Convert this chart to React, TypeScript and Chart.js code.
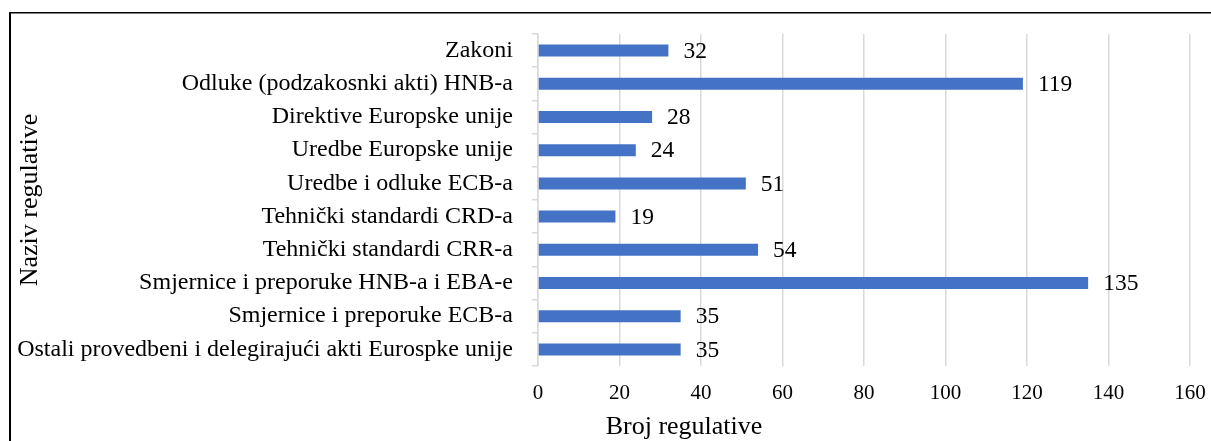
import React, { useEffect, useRef } from "react";
import { Chart, registerables } from "chart.js";

Chart.register(...registerables);

const categories: string[] = [
  "Zakoni",
  "Odluke (podzakosnki akti) HNB-a",
  "Direktive Europske unije",
  "Uredbe Europske unije",
  "Uredbe i odluke ECB-a",
  "Tehnički standardi CRD-a",
  "Tehnički standardi CRR-a",
  "Smjernice i preporuke HNB-a i EBA-e",
  "Smjernice i preporuke ECB-a",
  "Ostali provedbeni i delegirajući akti Eurospke unije",
];

const values: number[] = [32, 119, 28, 24, 51, 19, 54, 135, 35, 35];

const xTickMin = 0;
const xTickMax = 160;
const xTickStep = 20;

const xTitle = "Broj regulative";
const yTitle = "Naziv regulative";

const FONT = "'Liberation Serif', 'Times New Roman', serif";

const frame = {
  id: "frame",
  beforeDraw(chart: any) {
    const ctx = chart.ctx;
    ctx.save();
    ctx.fillStyle = "#000";
    ctx.fillRect(9, 12, chart.width, 1.5);
    ctx.fillRect(9, 12, 2, chart.height);
    ctx.restore();
  },
};

const xTitlePlugin = {
  id: "xTitlePlugin",
  afterDraw(chart: any) {
    const ctx = chart.ctx;
    ctx.save();
    ctx.font = `26px ${FONT}`;
    ctx.fillStyle = "#000";
    ctx.textAlign = "center";
    ctx.textBaseline = "middle";
    ctx.fillText(xTitle, 684, 427);
    ctx.restore();
  },
};

const valueLabels = {
  id: "valueLabels",
  afterDatasetsDraw(chart: any) {
    const ctx = chart.ctx;
    const meta = chart.getDatasetMeta(0);
    ctx.save();
    ctx.font = `23.5px ${FONT}`;
    ctx.fillStyle = "#000";
    ctx.textAlign = "left";
    ctx.textBaseline = "middle";
    meta.data.forEach((el: any, i: number) => {
      ctx.fillText(String(values[i]), el.x + 15, el.y + 1);
    });
    ctx.restore();
  },
};

export default function App() {
  const ref = useRef<HTMLCanvasElement | null>(null);

  useEffect(() => {
    if (!ref.current) return;
    const chart = new Chart(ref.current, {
      type: "bar",
      data: {
        labels: categories,
        datasets: [
          {
            data: values,
            backgroundColor: "#4472C4",
            borderWidth: 0,
            barPercentage: 0.36,
            categoryPercentage: 1,
          },
        ],
      },
      plugins: [frame, valueLabels, xTitlePlugin],
      options: {
        indexAxis: "y",
        responsive: false,
        animation: false,
        layout: { padding: { left: 15, top: 34, right: 21, bottom: 0 } },
        plugins: {
          legend: { display: false },
          tooltip: { enabled: false },
        },
        scales: {
          x: {
            min: xTickMin,
            max: xTickMax,
            ticks: {
              stepSize: xTickStep,
              padding: 15,
              color: "#000",
              font: { family: FONT, size: 21 },
            },
            grid: { color: "#d9d9d9", lineWidth: 1.5, drawTicks: false },
            border: { display: false },
            title: { display: false },
            afterFit: (scale: any) => {
              scale.height = 75;
              scale.paddingRight = 0;
              scale.paddingLeft = 0;
            },
          },
          y: {
            ticks: {
              padding: 19,
              color: "#000",
              font: { family: FONT, size: 24 },
              autoSkip: false,
            },
            grid: {
              offset: true,
              drawOnChartArea: false,
              drawTicks: true,
              tickLength: 6,
              color: "#d9d9d9",
              lineWidth: 1.5,
            },
            border: { display: true, color: "#d9d9d9", width: 1.5 },
            title: {
              display: true,
              text: yTitle,
              color: "#000",
              font: { family: FONT, size: 26, lineHeight: 1.2 },
              padding: { top: 0, bottom: 0 },
            },
            afterFit: (scale: any) => {
              scale.width = 523;
            },
          },
        },
      },
    });
    return () => chart.destroy();
  }, []);

  return (
    <div style={{ position: "fixed", left: 0, top: 0, width: 1211, height: 441, background: "#fff" }}>
      <canvas ref={ref} width={1211} height={441} style={{ display: "block" }} />
    </div>
  );
}
